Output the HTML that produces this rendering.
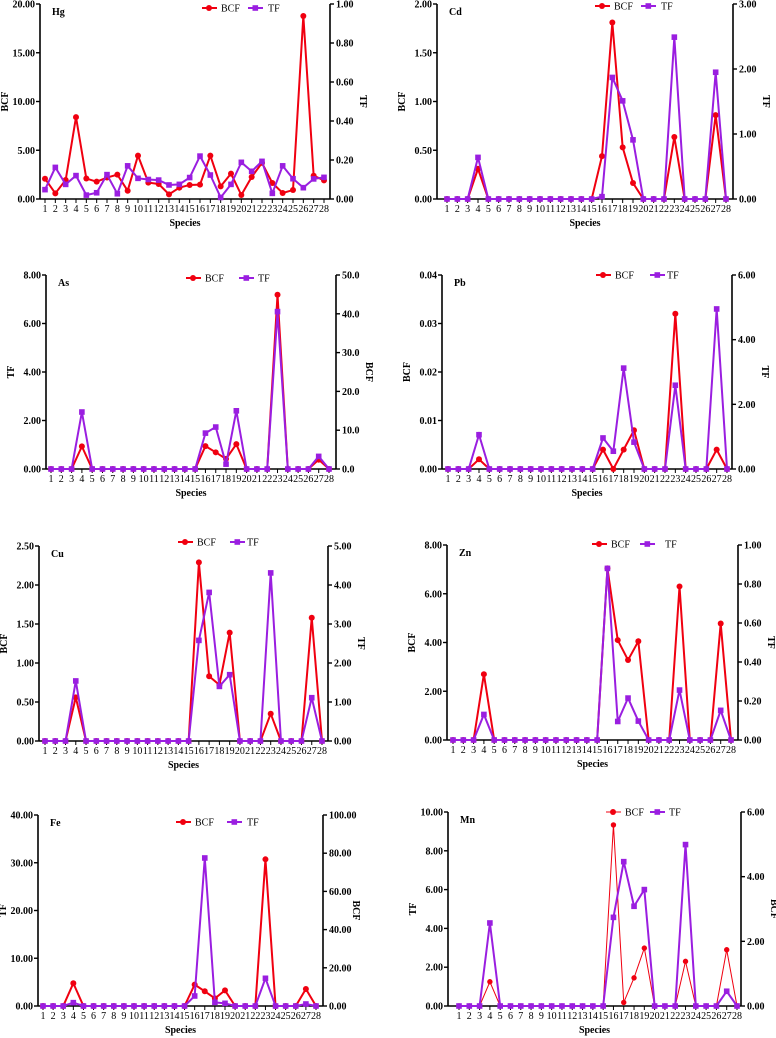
<!DOCTYPE html>
<html><head><meta charset="utf-8">
<style>
body{margin:0;background:#fff;}
svg{display:block;font-family:"Liberation Serif",serif;}
</style></head>
<body>
<svg id="fig" width="776" height="1038" viewBox="0 0 776 1038" xmlns="http://www.w3.org/2000/svg"></svg>
<script>
const species = [1,2,3,4,5,6,7,8,9,10,11,12,13,14,15,16,17,18,19,20,21,22,23,24,25,26,27,28];
const hgBCF = [2.08,0.58,1.95,8.4,2.1,1.78,2.2,2.5,0.85,4.45,1.68,1.54,0.48,1.16,1.44,1.47,4.45,1.3,2.6,0.41,2.26,3.7,1.64,0.62,0.92,18.77,2.39,1.91];
const hgTF = [0.048,0.162,0.075,0.12,0.02,0.032,0.125,0.027,0.17,0.106,0.1,0.097,0.072,0.075,0.11,0.22,0.123,0.008,0.075,0.188,0.142,0.193,0.029,0.17,0.104,0.058,0.103,0.111];
const cdBCF = [0,0,0,0.31,0,0,0,0,0,0,0,0,0,0,0,0.44,1.81,0.53,0.164,0,0,0,0.636,0,0,0,0.86,0];
const cdTF = [0,0,0,0.64,0,0,0,0,0,0,0,0,0,0,0,0.036,1.87,1.51,0.91,0,0,0,2.49,0,0,0,1.95,0];
const asTF = [0,0,0,2.35,0,0,0,0,0,0,0,0,0,0,0,1.48,1.73,0.2,2.4,0,0,0,6.49,0,0,0,0.52,0];
const asBCF = [0,0,0,5.83,0,0,0,0,0,0,0,0,0,0,0,5.9,4.3,2.6,6.4,0,0,0,44.9,0,0,0,2.4,0];
const pbBCF = [0,0,0,0.002,0,0,0,0,0,0,0,0,0,0,0,0.004,0,0.004,0.008,0,0,0,0.032,0,0,0,0.004,0];
const pbTF = [0,0,0,1.06,0,0,0,0,0,0,0,0,0,0,0,0.96,0.55,3.12,0.83,0,0,0,2.59,0,0,0,4.95,0];
const cuBCF = [0,0,0,0.56,0,0,0,0,0,0,0,0,0,0,0,2.29,0.83,0.72,1.39,0,0,0,0.35,0,0,0,1.58,0];
const cuTF = [0,0,0,1.54,0,0,0,0,0,0,0,0,0,0,0,2.58,3.81,1.4,1.7,0,0,0,4.31,0,0,0,1.11,0];
const znBCF = [0,0,0,2.7,0,0,0,0,0,0,0,0,0,0,0,7.04,4.1,3.28,4.05,0,0,0,6.3,0,0,0,4.78,0];
const znTF = [0,0,0,0.131,0,0,0,0,0,0,0,0,0,0,0,0.88,0.095,0.215,0.097,0,0,0,0.256,0,0,0,0.152,0];
const feTF = [0,0,0,0.7,0,0,0,0,0,0,0,0,0,0,0,2.1,31,0.77,0.56,0,0,0,5.8,0,0,0,0.42,0];
const feBCF = [0,0,0,11.9,0,0,0,0,0,0,0,0,0,0,0,11.2,7.7,4.0,8.2,0,0,0,76.8,0,0,0,8.9,0];
const mnTF = [0,0,0,4.28,0,0,0,0,0,0,0,0,0,0,0,4.57,7.44,5.14,6.0,0,0,0,8.32,0,0,0,0.76,0];
const mnBCF = [0,0,0,0.75,0,0,0,0,0,0,0,0,0,0,0,5.6,0.11,0.87,1.79,0,0,0,1.38,0,0,0,1.74,0];
const hgLeftTicks = ["0.00","5.00","10.00","15.00","20.00"];
const hgRightTicks = ["0.00","0.20","0.40","0.60","0.80","1.00"];
const cdLeftTicks = ["0.00","0.50","1.00","1.50","2.00"];
const cdRightTicks = ["0.00","1.00","2.00","3.00"];
const asLeftTicks = ["0.00","2.00","4.00","6.00","8.00"];
const asRightTicks = ["0.0","10.0","20.0","30.0","40.0","50.0"];
const pbLeftTicks = ["0.00","0.01","0.02","0.03","0.04"];
const pbRightTicks = ["0.00","2.00","4.00","6.00"];
const cuLeftTicks = ["0.00","0.50","1.00","1.50","2.00","2.50"];
const cuRightTicks = ["0.00","1.00","2.00","3.00","4.00","5.00"];
const znLeftTicks = ["0.00","2.00","4.00","6.00","8.00"];
const znRightTicks = ["0.00","0.20","0.40","0.60","0.80","1.00"];
const feLeftTicks = ["0.00","10.00","20.00","30.00","40.00"];
const feRightTicks = ["0.00","20.00","40.00","60.00","80.00","100.00"];
const mnLeftTicks = ["0.00","2.00","4.00","6.00","8.00","10.00"];
const mnRightTicks = ["0.00","2.00","4.00","6.00"];

const panels = [
 {el:"Hg",ax:40,bx:330,top:4,bot:199,p1:45,p28:324,L:{name:"BCF",data:hgBCF,ticks:hgLeftTicks},R:{name:"TF",data:hgTF,ticks:hgRightTicks},leg:[202,248,268,8],bw:2,tw:2},
 {el:"Cd",ax:437,bx:733,top:4,bot:199,p1:447,p28:726,L:{name:"BCF",data:cdBCF,ticks:cdLeftTicks},R:{name:"TF",data:cdTF,ticks:cdRightTicks},leg:[595,641,661,6],bw:2,tw:2},
 {el:"As",ax:46,bx:336,top:275,bot:469,p1:51,p28:329,L:{name:"TF",data:asTF,ticks:asLeftTicks},R:{name:"BCF",data:asBCF,ticks:asRightTicks},leg:[186,239,258,278],bw:2,tw:2},
 {el:"Pb",ax:442,bx:732,top:275,bot:469,p1:448,p28:727,L:{name:"BCF",data:pbBCF,ticks:pbLeftTicks},R:{name:"TF",data:pbTF,ticks:pbRightTicks},leg:[596,650,667,275],bw:2,tw:2},
 {el:"Cu",ax:39,bx:328,top:546,bot:741,p1:45,p28:322,L:{name:"BCF",data:cuBCF,ticks:cuLeftTicks},R:{name:"TF",data:cuTF,ticks:cuRightTicks},leg:[178,230,247,542],bw:2,tw:2},
 {el:"Zn",ax:447,bx:738,top:545,bot:740,p1:453,p28:731,L:{name:"BCF",data:znBCF,ticks:znLeftTicks},R:{name:"TF",data:znTF,ticks:znRightTicks},leg:[592,640,665,544],bw:2,tw:2},
 {el:"Fe",ax:38,bx:323,top:815,bot:1006,p1:43,p28:316,L:{name:"TF",data:feTF,ticks:feLeftTicks},R:{name:"BCF",data:feBCF,ticks:feRightTicks},leg:[176,227,247,822],bw:2,tw:2},
 {el:"Mn",ax:448,bx:741,top:812,bot:1006,p1:459,p28:737,L:{name:"TF",data:mnTF,ticks:mnLeftTicks},R:{name:"BCF",data:mnBCF,ticks:mnRightTicks},leg:[606,650,669,812],bw:1,tw:2}
];
const NS="http://www.w3.org/2000/svg";
const svg=document.getElementById("fig");
function mk(tag,attrs,parent){const e=document.createElementNS(NS,tag);for(const k in attrs)e.setAttribute(k,attrs[k]);(parent||svg).appendChild(e);return e;}
const RED="#f00010", PUR="#9a1ee0";
panels.forEach(p=>{
 const g=mk("g",{});
 
 
 const lmax=parseFloat(p.L.ticks[p.L.ticks.length-1]), rmax=parseFloat(p.R.ticks[p.R.ticks.length-1]);
 const yL=v=>p.bot-(v/lmax)*(p.bot-p.top);
 const yR=v=>p.bot-(v/rmax)*(p.bot-p.top);
 const xs=i=>p.p1+(i)*(p.p28-p.p1)/(species.length-1);
 const axL=mk("line",{x1:p.ax,y1:p.top,x2:p.ax,y2:p.bot,stroke:"#000","stroke-width":1.6},g);
 
 
 const axR=mk("line",{x1:p.bx,y1:p.top,x2:p.bx,y2:p.bot,stroke:"#000","stroke-width":1.6},g);
 
 
 const axX=mk("line",{x1:p.ax,y1:p.bot,x2:p.bx,y2:p.bot,stroke:"#000","stroke-width":1.6},g);
 
 
 p.L.ticks.forEach((t,i)=>{const y=p.top+(p.bot-p.top)*(1-i/(p.L.ticks.length-1));
  mk("line",{x1:p.ax-4,y1:y,x2:p.ax,y2:y,stroke:"#000","stroke-width":1.4},g);
  const tx=mk("text",{x:p.ax-5,y:y+3.5,"text-anchor":"end","font-size":10,"font-weight":"bold"},g);tx.textContent=t;
  
  });
 p.R.ticks.forEach((t,i)=>{const y=p.top+(p.bot-p.top)*(1-i/(p.R.ticks.length-1));
  mk("line",{x1:p.bx,y1:y,x2:p.bx+4,y2:y,stroke:"#000","stroke-width":1.4},g);
  const tx=mk("text",{x:p.bx+6,y:y+3.5,"font-size":10,"font-weight":"bold"},g);tx.textContent=t;
  
  });
 species.forEach((s,i)=>{const x=xs(i);
  mk("line",{x1:x,y1:p.bot,x2:x,y2:p.bot+4,stroke:"#000","stroke-width":1},g);
  const tx=mk("text",{x:x,y:p.bot+13,"text-anchor":"middle","font-size":10},g);tx.textContent=s;
  
  });
 const xt=mk("text",{x:(p.ax+p.bx)/2,y:p.bot+27,"text-anchor":"middle","font-size":10,"font-weight":"bold"},g);xt.textContent="Species";
 
 
 const lcx=p.ax-32, lcy=(p.top+p.bot)/2;
 const lt=mk("text",{x:lcx,y:lcy,"text-anchor":"middle","font-size":10,"font-weight":"bold",transform:`rotate(-90 ${lcx} ${lcy})`},g);lt.textContent=p.L.name;
 
 
 const rcx=p.bx+30;
 const rt=mk("text",{x:rcx,y:lcy,"text-anchor":"middle","font-size":10,"font-weight":"bold",transform:`rotate(90 ${rcx} ${lcy})`},g);rt.textContent=p.R.name;
 
 
 const et=mk("text",{x:p.ax+12,y:p.top+11,"font-size":10,"font-weight":"bold"},g);et.textContent=p.el;
 
 
 const series=[{s:p.L,y:yL},{s:p.R,y:yR}];
 series.sort((a,b)=>a.s.name==="BCF"?-1:1);
 series.forEach(o=>{
  const isB=o.s.name==="BCF";
  const col=isB?RED:PUR;
  const w=isB?p.bw:p.tw;
  const pts=o.s.data.map((v,i)=>xs(i)+","+o.y(v)).join(" ");
  const pl=mk("polyline",{points:pts,fill:"none",stroke:col,"stroke-width":w},g);
  
  
  o.s.data.forEach((v,i)=>{let m;
   if(isB) m=mk("circle",{cx:xs(i),cy:o.y(v),r:w<2?2.7:3,fill:col},g);
   else m=mk("rect",{x:xs(i)-2.8,y:o.y(v)-2.8,width:5.6,height:5.6,fill:col},g);
   
   });
 });
 const [rx,px,tfx,ly]=p.leg;
 const lg=mk("g",{},g);
 
 
 mk("line",{x1:rx,y1:ly,x2:rx+15,y2:ly,stroke:RED,"stroke-width":p.bw},lg);
 mk("circle",{cx:rx+7,cy:ly,r:3,fill:RED},lg);
 const b=mk("text",{x:rx+19,y:ly+3.5,"font-size":10},lg);b.textContent="BCF";
 
 
 mk("line",{x1:px,y1:ly,x2:px+15,y2:ly,stroke:PUR,"stroke-width":p.tw},lg);
 mk("rect",{x:px+4.5,y:ly-2.8,width:5.6,height:5.6,fill:PUR},lg);
 const t=mk("text",{x:tfx,y:ly+3.5,"font-size":10},lg);t.textContent="TF";
 
 
});
</script>
</body></html>
